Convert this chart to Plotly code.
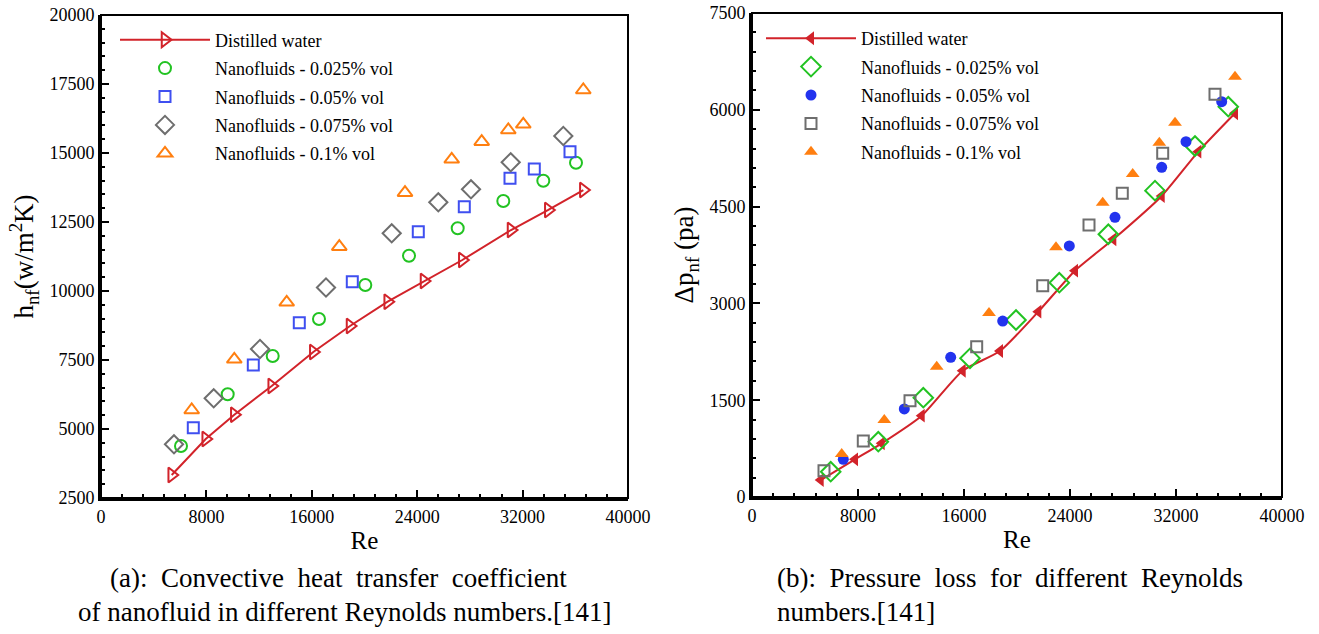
import plotly.graph_objects as go

# ---------------- Panel (a): heat transfer coefficient ----------------
re_a_water = [5366, 7947, 10118, 12956, 16114, 18900, 21760, 24516, 27423, 31120, 33950, 36610]
h_water = [3333, 4638, 5518, 6558, 7790, 8732, 9612, 10362, 11123, 12210, 12935, 13659]

re_a_025 = [6072, 9617, 13032, 16546, 20061, 23378, 27074, 30535, 33571, 36053]
h_025 = [4384, 6257, 7645, 8986, 10217, 11279, 12272, 13261, 13996, 14649]

re_a_05 = [7006, 11560, 15051, 19074, 24083, 27575, 31044, 32888, 35598]
h_05 = [5047, 7319, 8851, 10337, 12149, 13054, 14083, 14420, 15047]

re_a_075 = [5541, 8554, 12068, 17078, 22065, 25602, 28083, 31097, 35090]
h_075 = [4446, 6112, 7899, 10127, 12091, 13214, 13685, 14663, 15616]

re_a_1 = [6884, 10118, 14095, 18087, 23074, 26619, 28896, 30915, 32053, 36607]
h_1 = [5688, 7525, 9591, 11605, 13562, 14772, 15409, 15833, 16040, 17283]

# ---------------- Panel (b): pressure loss ----------------
re_b_water = [5185, 7774, 9789, 12808, 15902, 18717, 21608, 24377, 27268, 30921, 33683, 36453]
dp_water = [263, 584, 832, 1260, 1957, 2262, 2872, 3507, 3993, 4665, 5351, 5946]

re_b_025 = [5940, 9532, 12928, 16453, 19925, 23192, 26891, 30415, 33434, 35947]
dp_025 = [392, 857, 1539, 2149, 2743, 3321, 4071, 4747, 5439, 6048]

re_b_05 = [6891, 11494, 14996, 18921, 23947, 27396, 30921, 32755, 35449]
dp_05 = [584, 1364, 2165, 2727, 3890, 4334, 5109, 5506, 6126]

re_b_075 = [5434, 8400, 11925, 16958, 21940, 25434, 27947, 30996, 34943]
dp_075 = [408, 868, 1492, 2329, 3274, 4215, 4706, 5326, 6241]

re_b_1 = [6770, 9985, 13940, 17887, 22943, 26468, 28732, 30740, 31925, 36453]
dp_1 = [666, 1193, 2019, 2851, 3870, 4561, 5005, 5491, 5801, 6513]

names = ["Distilled water", "Nanofluids - 0.025% vol", "Nanofluids - 0.05% vol",
         "Nanofluids - 0.075% vol", "Nanofluids - 0.1% vol"]
x_ticks = [0, 8000, 16000, 24000, 32000, 40000]
ya_ticks = [2500, 5000, 7500, 10000, 12500, 15000, 17500, 20000]
yb_ticks = [0, 1500, 3000, 4500, 6000, 7500]

RED = "#d2232a"
GREEN = "#22c322"
BLUE = "#3f4ff0"
BLUE_F = "#2233ee"
GRAY = "#6e6e6e"
ORANGE = "#ff7f10"
FONT = "Liberation Serif"

fig = go.Figure()

# Panel (a) traces
fig.add_trace(go.Scatter(x=re_a_water, y=h_water, name=names[0], mode="lines+markers",
                         line=dict(color=RED, width=2),
                         marker=dict(symbol="triangle-right-open", size=13, color=RED, line=dict(width=2)),
                         xaxis="x", yaxis="y", legend="legend", legendgroup="a0"))
fig.add_trace(go.Scatter(x=re_a_025, y=h_025, name=names[1], mode="markers",
                         marker=dict(symbol="circle-open", size=12, color=GREEN, line=dict(width=2)),
                         xaxis="x", yaxis="y", legend="legend", legendgroup="a1"))
fig.add_trace(go.Scatter(x=re_a_05, y=h_05, name=names[2], mode="markers",
                         marker=dict(symbol="square-open", size=11, color=BLUE, line=dict(width=2)),
                         xaxis="x", yaxis="y", legend="legend", legendgroup="a2"))
fig.add_trace(go.Scatter(x=re_a_075, y=h_075, name=names[3], mode="markers",
                         marker=dict(symbol="diamond-open", size=14, color=GRAY, line=dict(width=2)),
                         xaxis="x", yaxis="y", legend="legend", legendgroup="a3"))
fig.add_trace(go.Scatter(x=re_a_1, y=h_1, name=names[4], mode="markers",
                         marker=dict(symbol="triangle-up-open", size=13, color=ORANGE, line=dict(width=2)),
                         xaxis="x", yaxis="y", legend="legend", legendgroup="a4"))

# Panel (b) traces
fig.add_trace(go.Scatter(x=re_b_water, y=dp_water, name=names[0], mode="lines+markers",
                         line=dict(color=RED, width=2, shape="spline", smoothing=0.6),
                         marker=dict(symbol="triangle-left", size=12, color=RED),
                         xaxis="x2", yaxis="y2", legend="legend2", legendgroup="b0"))
fig.add_trace(go.Scatter(x=re_b_025, y=dp_025, name=names[1], mode="markers",
                         marker=dict(symbol="diamond-open", size=15, color=GREEN, line=dict(width=2)),
                         xaxis="x2", yaxis="y2", legend="legend2", legendgroup="b1"))
fig.add_trace(go.Scatter(x=re_b_05, y=dp_05, name=names[2], mode="markers",
                         marker=dict(symbol="circle", size=11, color=BLUE_F),
                         xaxis="x2", yaxis="y2", legend="legend2", legendgroup="b2"))
fig.add_trace(go.Scatter(x=re_b_075, y=dp_075, name=names[3], mode="markers",
                         marker=dict(symbol="square-open", size=11, color=GRAY, line=dict(width=2)),
                         xaxis="x2", yaxis="y2", legend="legend2", legendgroup="b3"))
fig.add_trace(go.Scatter(x=re_b_1, y=dp_1, name=names[4], mode="markers",
                         marker=dict(symbol="triangle-up", size=12, color=ORANGE),
                         xaxis="x2", yaxis="y2", legend="legend2", legendgroup="b4"))

W, H = 1319, 634

def xax(domain, anchor):
    return dict(domain=domain, anchor=anchor, range=[0, 40000], tickvals=x_ticks,
                ticktext=[str(v) for v in x_ticks], automargin=False,
                ticks="inside", ticklen=8, tickwidth=2, tickcolor="black",
                minor=dict(dtick=1600, ticks="inside", ticklen=4, tickwidth=1.5, tickcolor="black"),
                showline=True, linewidth=3, linecolor="black", mirror=False,
                showgrid=False, zeroline=False,
                tickfont=dict(family=FONT, size=18, color="black"),
                title=dict(text="Re", font=dict(family=FONT, size=25, color="black"), standoff=6))

def yax(domain, anchor, rng, ticks, minor, title):
    return dict(domain=domain, anchor=anchor, range=rng, tickvals=ticks,
                ticktext=[str(v) for v in ticks], automargin=False,
                ticks="inside", ticklen=8, tickwidth=2, tickcolor="black",
                minor=dict(dtick=minor, ticks="inside", ticklen=4, tickwidth=1.5, tickcolor="black"),
                showline=True, linewidth=3, linecolor="black", mirror=False,
                showgrid=False, zeroline=False,
                tickfont=dict(family=FONT, size=18, color="black"),
                title=dict(text=title, font=dict(family=FONT, size=27, color="black"), standoff=8))

legend_common = dict(font=dict(family=FONT, size=18, color="black"), bgcolor="rgba(0,0,0,0)",
                     itemwidth=90, tracegroupgap=2, traceorder="grouped",
                     xanchor="left", yanchor="top", itemclick=False, itemdoubleclick=False)

fig.update_layout(
    width=W, height=H,
    margin=dict(l=0, r=0, t=0, b=0, autoexpand=False),
    paper_bgcolor="white", plot_bgcolor="white",
    showlegend=True,
    xaxis=xax([101 / W, 628 / W], "y"),
    yaxis=yax([1 - 498 / H, 1 - 15 / H], "x", [2500, 20000], ya_ticks, 500,
              "h<sub>nf</sub>(w/m<sup>2</sup>K)"),
    xaxis2=xax([752 / W, 1282 / W], "y2"),
    yaxis2=yax([1 - 497 / H, 1 - 13 / H], "x2", [0, 7500], yb_ticks, 300,
               "Δp<sub>nf</sub> (pa)"),
    legend=dict(x=115 / W, y=1 - 21.5 / H, **legend_common),
    legend2=dict(x=761 / W, y=1 - 20 / H, **legend_common),
)

# plot frames (thinner top/right edges)
for xr, yr in (("x", "y"), ("x2", "y2")):
    fig.add_shape(type="rect", xref=f"{xr} domain", yref=f"{yr} domain", x0=0, x1=1, y0=0, y1=1,
                  line=dict(color="black", width=2), layer="above")

cap_font = dict(family=FONT, size=27, color="black")
captions = [
    ("(a):\u00a0 Convective\u00a0 heat\u00a0 transfer\u00a0 coefficient", 338 / W, 1 - 578 / H, "center"),
    ("of nanofluid in different Reynolds numbers.[141]", 344 / W, 1 - 612 / H, "center"),
    ("(b):\u00a0 Pressure\u00a0 loss\u00a0 for\u00a0 different\u00a0 Reynolds", 775 / W, 1 - 578 / H, "left"),
    ("numbers.[141]", 775 / W, 1 - 612 / H, "left"),
]
for txt, x, y, xa in captions:
    fig.add_annotation(text=txt, x=x, y=y, xref="paper", yref="paper", xanchor=xa, yanchor="middle",
                       showarrow=False, font=cap_font)

fig.write_html("out.html")
